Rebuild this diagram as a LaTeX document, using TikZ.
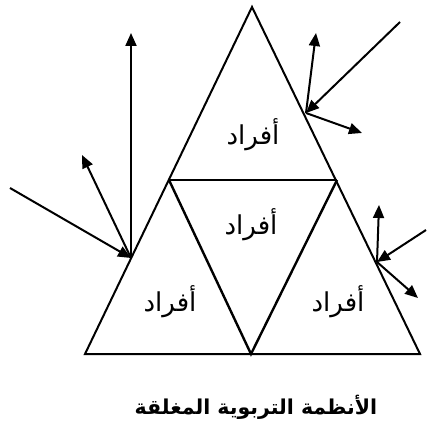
\documentclass[tikz,border=0pt]{standalone}
\usepackage{fontspec}
\usetikzlibrary{arrows.meta}
\TeXXeTstate=1
\newfontfamily\arabicfont[Script=Arabic]{DejaVu Sans}
\begin{document}
\begin{tikzpicture}[x=1pt,y=-1pt,
  edge/.style={line width=2pt,line join=miter},
  inner/.style={line width=2.4pt},
  arr/.style={line width=2pt,-{Triangle[length=13pt,width=11pt]}},
  lbl/.style={font=\arabicfont\fontsize{26}{30}\selectfont,inner sep=0pt},
  captext/.style={font=\arabicfont\bfseries\fontsize{20.5}{24}\selectfont,inner sep=0pt}]
\useasboundingbox (0,0) rectangle (426,430);
% triangle corners
\coordinate (A) at (252,7);
\coordinate (BL) at (85,354);
\coordinate (BR) at (420,354);
\coordinate (ML) at (169,180);
\coordinate (MR) at (337,180);
\coordinate (MB) at (251,354);
% contact points
\coordinate (P1) at (131,258);
\coordinate (P2) at (306,113);
\coordinate (P3) at (377,262);
% free ends
\coordinate (P1up) at (131,33);
\coordinate (P1ul) at (82,155);
\coordinate (P1in) at (10,188);
\coordinate (P2up) at (316,33);
\coordinate (P2dr) at (362,133);
\coordinate (P2in) at (400,22);
\coordinate (P3up) at (379,205);
\coordinate (P3dr) at (418,298);
\coordinate (P3in) at (426,230);
% triangles
\draw[edge] (A) -- (BL) -- (BR) -- cycle;
\draw[edge] (ML) -- (MR);
\draw[inner] (ML) -- (MB) -- (MR);
% arrows
\draw[arr] (P1) -- (P1up);
\draw[arr] (P1) -- (P1ul);
\draw[arr] (P1in) -- (P1);
\draw[arr] (P2) -- (P2up);
\draw[arr] (P2) -- (P2dr);
\draw[arr] (P2in) -- (P2);
\draw[arr] (P3) -- (P3up);
\draw[arr] (P3) -- (P3dr);
\draw[arr] (P3in) -- (P3);
% labels
\node[lbl] (t1) at (253,135) {\beginR أفراد\endR};
\node[lbl] (t2) at (251,225) {\beginR أفراد\endR};
\node[lbl] (t3) at (170,302) {\beginR أفراد\endR};
\node[lbl] (t4) at (338,302) {\beginR أفراد\endR};
\node[captext] (c) at (256,407) {\beginR الأنظمة التربوية المغلقة\endR};
\end{tikzpicture}
\end{document}
